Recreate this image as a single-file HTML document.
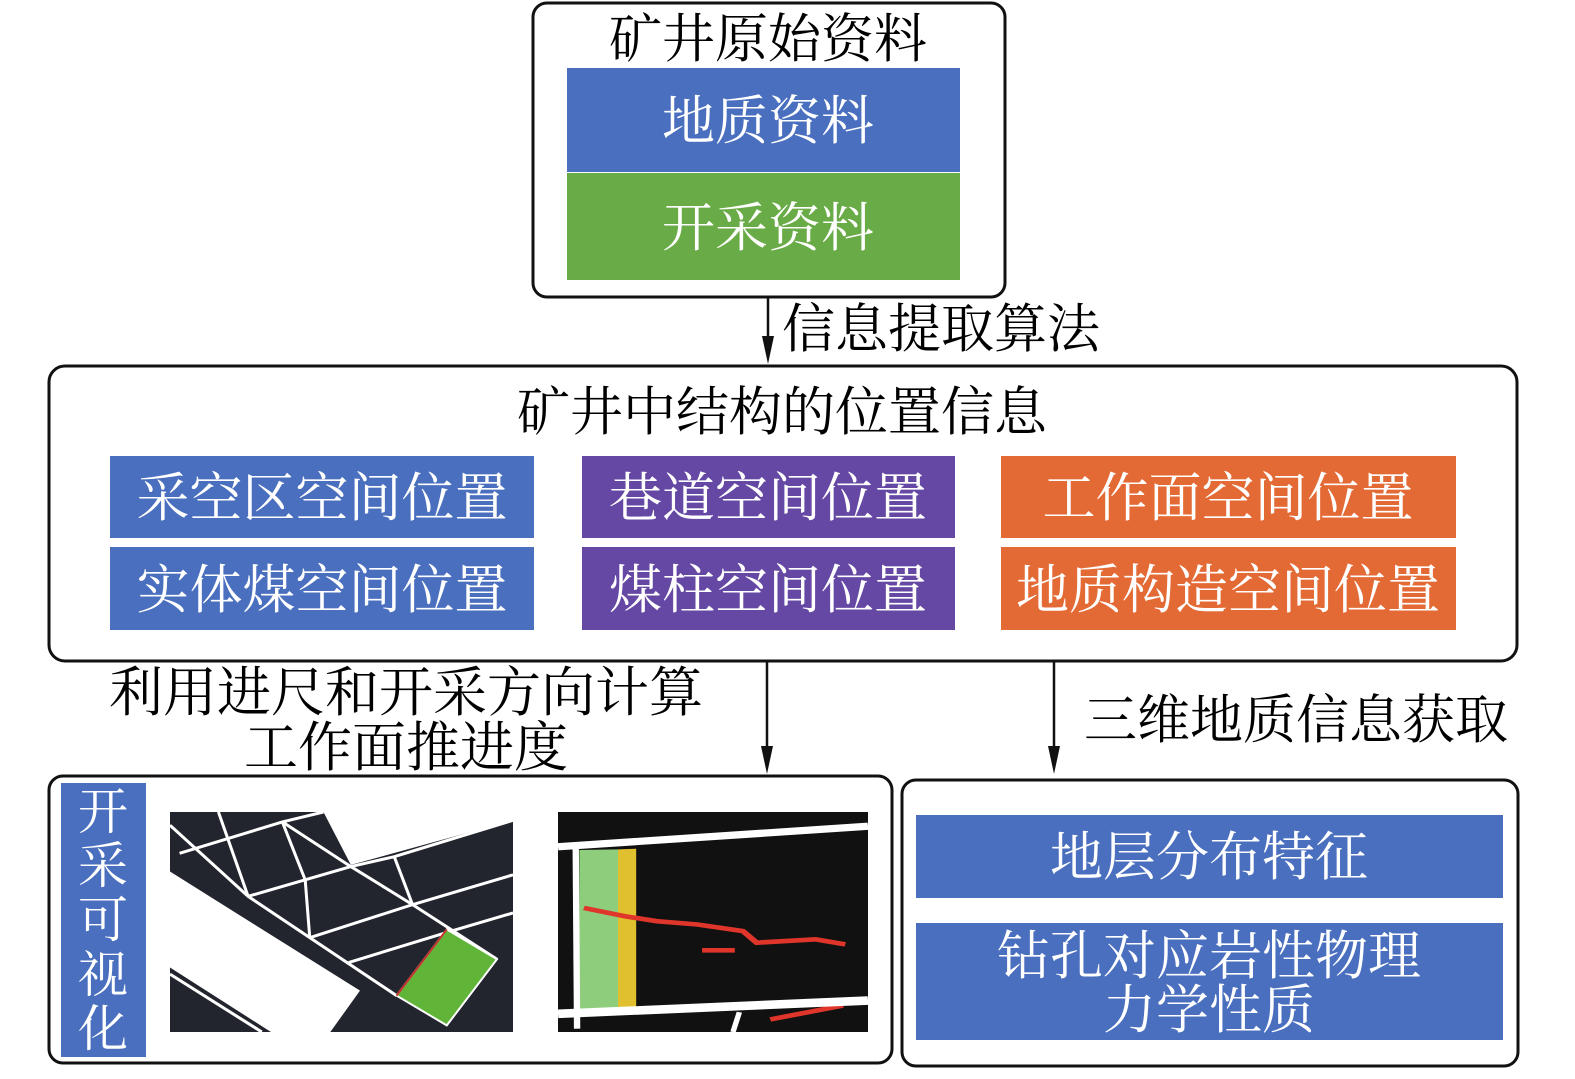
<!DOCTYPE html>
<html><head><meta charset="utf-8"><style>
html,body{margin:0;padding:0;background:#fff;}
svg text{font-family:"Liberation Serif","Noto Serif CJK SC",serif;}
</style></head><body>
<svg width="1575" height="1074" viewBox="0 0 1575 1074" xmlns="http://www.w3.org/2000/svg">
<!-- top box -->
<rect x="533" y="3" width="472" height="294" rx="14" fill="#fff" stroke="#111" stroke-width="3"/>
<text x="768" y="57" font-size="53" text-anchor="middle">矿井原始资料</text>
<rect x="567" y="68" width="393" height="104" fill="#4a6fbf"/>
<rect x="567" y="173" width="393" height="107" fill="#69ab46"/>
<text x="768" y="139" font-size="53" fill="#fff" text-anchor="middle">地质资料</text>
<text x="768" y="246" font-size="53" fill="#fff" text-anchor="middle">开采资料</text>
<!-- arrow 1 -->
<line x1="768" y1="297" x2="768" y2="340" stroke="#111" stroke-width="2.5"/>
<path d="M762,336 L774,336 L768,364 Z" fill="#111"/>
<text x="782" y="347" font-size="53">信息提取算法</text>
<!-- middle box -->
<rect x="49" y="366" width="1468" height="295" rx="16" fill="#fff" stroke="#111" stroke-width="3"/>
<text x="782" y="430" font-size="53" text-anchor="middle">矿井中结构的位置信息</text>
<rect x="110" y="456" width="424" height="82" fill="#4a6fbf"/>
<rect x="110" y="547" width="424" height="83" fill="#4a6fbf"/>
<rect x="582" y="456" width="373" height="82" fill="#6548a3"/>
<rect x="582" y="547" width="373" height="83" fill="#6548a3"/>
<rect x="1001" y="456" width="455" height="82" fill="#e46a35"/>
<rect x="1001" y="547" width="455" height="83" fill="#e46a35"/>
<g font-size="53" fill="#fff" text-anchor="middle">
<text x="322" y="516">采空区空间位置</text>
<text x="322" y="608">实体煤空间位置</text>
<text x="768" y="516">巷道空间位置</text>
<text x="768" y="608">煤柱空间位置</text>
<text x="1228" y="516">工作面空间位置</text>
<text x="1228" y="608">地质构造空间位置</text>
</g>
<!-- arrows 2,3 -->
<line x1="767" y1="661" x2="767" y2="750" stroke="#111" stroke-width="2.5"/>
<path d="M761,746 L773,746 L767,774 Z" fill="#111"/>
<line x1="1054" y1="661" x2="1054" y2="750" stroke="#111" stroke-width="2.5"/>
<path d="M1048,746 L1060,746 L1054,774 Z" fill="#111"/>
<text x="406" y="711" font-size="54" text-anchor="middle">利用进尺和开采方向计算</text>
<text x="406" y="766" font-size="54" text-anchor="middle">工作面推进度</text>
<text x="1296" y="738" font-size="53" text-anchor="middle">三维地质信息获取</text>
<!-- bottom left -->
<rect x="49" y="776" width="843" height="287" rx="14" fill="#fff" stroke="#111" stroke-width="3"/>
<rect x="61" y="783" width="85" height="274" fill="#4a6fbf"/>
<g font-size="50" fill="#fff" text-anchor="middle">
<text x="103" y="829">开</text><text x="103" y="883">采</text><text x="103" y="937">可</text><text x="103" y="992">视</text><text x="103" y="1046">化</text>
</g>
<svg x="170" y="812" width="343" height="220" viewBox="24 45 751 665" preserveAspectRatio="none">
<rect x="24" y="45" width="751" height="665" fill="#22252d"/>
<polygon points="360,45 775,45 775,70 420,205" fill="#fff"/>
<polygon points="24,225 440,585 375,710 245,710 24,515" fill="#fff"/>
<polygon points="24,45 130,45 24,85" fill="#22252d"/>
<g stroke="#fff" stroke-width="3" fill="none">
<polyline points="24,85 195,300 520,600" vector-effect="non-scaling-stroke"/>
<polyline points="45,170 270,75 360,45" vector-effect="non-scaling-stroke"/>
<polyline points="195,300 420,210 515,180 775,70" vector-effect="non-scaling-stroke"/>
<polyline points="330,425 555,325 775,235" vector-effect="non-scaling-stroke"/>
<polyline points="415,500 640,405 775,350" vector-effect="non-scaling-stroke"/>
<polyline points="130,45 195,300" vector-effect="non-scaling-stroke"/>
<polyline points="270,75 320,250 330,425" vector-effect="non-scaling-stroke"/>
<polyline points="270,75 420,210 555,325 740,490" vector-effect="non-scaling-stroke"/>
<polyline points="515,180 555,325" vector-effect="non-scaling-stroke"/>
<polyline points="24,535 225,710" vector-effect="non-scaling-stroke"/>
</g>
<polygon points="630,400 740,490 630,690 520,600" fill="#60b538" stroke="#fff" stroke-width="2" vector-effect="non-scaling-stroke"/>
<line x1="520" y1="600" x2="630" y2="400" stroke="#c0302a" stroke-width="2" vector-effect="non-scaling-stroke"/>
</svg>
<svg x="558" y="812" width="310" height="220" viewBox="873 45 682 665" preserveAspectRatio="none">
<rect x="873" y="45" width="682" height="665" fill="#111"/>
<polygon points="920,160 1005,158 1005,640 920,645" fill="#8ecd7c"/>
<polygon points="1005,158 1045,156 1045,632 1005,640" fill="#e1c02f"/>
<polyline points="930,335 1020,360 1090,375 1180,385 1280,405 1310,440 1440,430 1505,445" fill="none" stroke="#e0352a" stroke-width="14"/>
<line x1="1190" y1="463" x2="1262" y2="463" stroke="#e0352a" stroke-width="14"/>
<line x1="1340" y1="672" x2="1500" y2="630" stroke="#e0352a" stroke-width="14"/>
<line x1="873" y1="150" x2="1555" y2="88" stroke="#fff" stroke-width="22"/>
<line x1="873" y1="655" x2="1555" y2="615" stroke="#fff" stroke-width="26"/>
<line x1="912" y1="150" x2="915" y2="700" stroke="#fff" stroke-width="14"/>
<line x1="1272" y1="650" x2="1258" y2="710" stroke="#fff" stroke-width="12"/>
</svg>
<!-- bottom right -->
<rect x="902" y="780" width="616" height="286" rx="14" fill="#fff" stroke="#111" stroke-width="3"/>
<rect x="916" y="815" width="587" height="83" fill="#4a6fbf"/>
<rect x="916" y="923" width="587" height="117" fill="#4a6fbf"/>
<g font-size="53" fill="#fff" text-anchor="middle">
<text x="1209" y="875">地层分布特征</text>
<text x="1209" y="974">钻孔对应岩性物理</text>
<text x="1209" y="1028">力学性质</text>
</g>
</svg>
</body></html>
